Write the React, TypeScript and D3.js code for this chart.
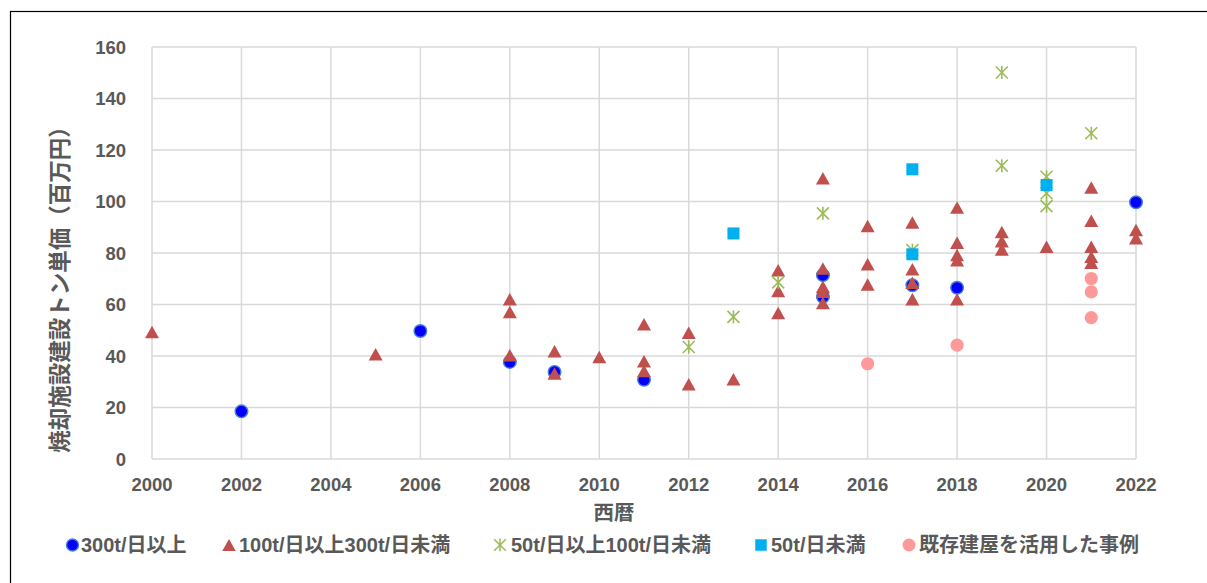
import React from "react";
import * as d3 from "d3";

// ---- data (year, value in 百万円) ----
const s300Over: [number, number][] = [
  [2002, 18.5], [2006, 49.7], [2008, 37.7], [2009, 33.8], [2011, 30.8],
  [2015, 71.4], [2015, 63], [2017, 67.5], [2018, 66.5], [2022, 99.7],
];
const s100to300: [number, number][] = [
  [2000, 49.3], [2005, 40.7], [2008, 62], [2008, 57.1], [2008, 40.3],
  [2009, 41.8], [2009, 33.2], [2010, 39.6], [2011, 52.3], [2011, 38], [2011, 34.2],
  [2012, 49], [2012, 29], [2013, 31], [2014, 73.3], [2014, 65.2], [2014, 56.7],
  [2015, 109], [2015, 74], [2015, 66.9], [2015, 65], [2015, 60.6],
  [2016, 90.5], [2016, 75.6], [2016, 67.8],
  [2017, 91.8], [2017, 73.7], [2017, 68.4], [2017, 62],
  [2018, 97.7], [2018, 84], [2018, 79.2], [2018, 77.2], [2018, 62],
  [2019, 88.2], [2019, 84.6], [2019, 81.4], [2020, 82.4],
  [2021, 105.4], [2021, 92.5], [2021, 82.4], [2021, 78.5], [2021, 76.2],
  [2022, 88.9], [2022, 85.7],
];
const s50to100: [number, number][] = [
  [2012, 43.5], [2013, 55.2], [2014, 68.6], [2015, 95.4], [2017, 81.1],
  [2019, 150.1], [2019, 113.9], [2020, 109.6], [2020, 103.2], [2020, 98.2], [2021, 126.5],
];
const s50Under: [number, number][] = [
  [2013, 87.6], [2017, 112.5], [2017, 79.5], [2020, 106.4],
];
const sExisting: [number, number][] = [
  [2016, 37], [2018, 44.2], [2021, 70.1], [2021, 64.9], [2021, 54.9],
];

const xTicks = [2000, 2002, 2004, 2006, 2008, 2010, 2012, 2014, 2016, 2018, 2020, 2022];
const yTicks = [0, 20, 40, 60, 80, 100, 120, 140, 160];
const legendLabels = [
  "300t/日以上",
  "100t/日以上300t/日未満",
  "50t/日以上100t/日未満",
  "50t/日未満",
  "既存建屋を活用した事例",
];
const yTitle = "焼却施設建設トン単価（百万円）";
const xTitle = "西暦";

// ---- styles ----
const FONT = "'Liberation Sans', 'Noto Sans CJK JP', sans-serif";
const TEXT = "#595959";
const GRID = "#D9D9D9";
const C_BLUE = "#0000FF";
const C_RED = "#C0504D";
const C_GREEN = "#9BBB59";
const C_CYAN = "#00B0F0";
const C_PINK = "#FF9999";

const x = d3.scaleLinear().domain([2000, 2022]).range([152, 1136]);
const y = d3.scaleLinear().domain([0, 160]).range([459, 47]);

function Circle({ cx, cy, color, stroke, r = 6.3 }: any) {
  return <circle cx={cx} cy={cy} r={r} fill={color} stroke={stroke ?? "none"} strokeWidth={stroke ? 1.4 : 0} />;
}
function Tri({ cx, cy, w = 14, h = 12.5 }: any) {
  const p = `M${cx},${cy - h / 2}L${cx + w / 2},${cy + h / 2}L${cx - w / 2},${cy + h / 2}Z`;
  return <path d={p} fill={C_RED} />;
}
function Star({ cx, cy, s = 6.5 }: any) {
  const d = s * 0.92;
  return (
    <g stroke={C_GREEN} strokeWidth={1.6} fill="none">
      <line x1={cx - d} y1={cy - d} x2={cx + d} y2={cy + d} />
      <line x1={cx - d} y1={cy + d} x2={cx + d} y2={cy - d} />
      <line x1={cx} y1={cy - s} x2={cx} y2={cy + s} />
    </g>
  );
}
function Sq({ cx, cy, s = 12 }: any) {
  return <rect x={cx - s / 2} y={cy - s / 2} width={s} height={s} fill={C_CYAN} />;
}

export default function App() {
  const legendX = [72.5, 229, 500, 761, 909];
  const legendTextX = [81, 239, 511, 771, 919];
  const ly = 545;
  return (
    <svg width={1207} height={583} style={{ position: "absolute", left: 0, top: 0, background: "#fff" }}>
      <rect x={0} y={0} width={1207} height={583} fill="#fff" />
      <rect x={10.5} y={11.5} width={1220} height={600} fill="none" stroke="#000" strokeWidth={1.2} />
      {/* grid */}
      {yTicks.map((t) => (
        <line key={"gy" + t} x1={x(2000)} x2={x(2022)} y1={y(t)} y2={y(t)} stroke={GRID} strokeWidth={1.5} />
      ))}
      {xTicks.map((t) => (
        <line key={"gx" + t} x1={x(t)} x2={x(t)} y1={y(0)} y2={y(160)} stroke={GRID} strokeWidth={1.5} />
      ))}
      {/* tick labels */}
      {yTicks.map((t) => (
        <text key={"ty" + t} x={126} y={y(t)} dy="0.36em" textAnchor="end" fontFamily={FONT} fontWeight="bold" fontSize={18.5} fill={TEXT}>
          {t}
        </text>
      ))}
      {xTicks.map((t) => (
        <text key={"tx" + t} x={x(t)} y={491} textAnchor="middle" fontFamily={FONT} fontWeight="bold" fontSize={18.5} fill={TEXT}>
          {t}
        </text>
      ))}
      {/* axis titles */}
      <text x={614} y={520} textAnchor="middle" fontFamily={FONT} fontWeight="bold" fontSize={20.5} fill={TEXT}>
        {xTitle}
      </text>
      <text transform={`translate(68,284) rotate(-90)`} textAnchor="middle" fontFamily={FONT} fontWeight="bold" fontSize={22.5} fill={TEXT}>
        {yTitle}
      </text>
      {/* marks */}
      {s300Over.map(([a, b], i) => (
        <Circle key={"c" + i} cx={x(a)} cy={y(b)} color={C_BLUE} stroke="#4A7FD6" />
      ))}
      {s100to300.map(([a, b], i) => (
        <Tri key={"t" + i} cx={x(a)} cy={y(b)} />
      ))}
      {s50to100.map(([a, b], i) => (
        <Star key={"s" + i} cx={x(a)} cy={y(b)} />
      ))}
      {s50Under.map(([a, b], i) => (
        <Sq key={"q" + i} cx={x(a)} cy={y(b)} />
      ))}
      {sExisting.map(([a, b], i) => (
        <Circle key={"p" + i} cx={x(a)} cy={y(b)} color={C_PINK} r={6.6} />
      ))}
      {/* legend */}
      <Circle cx={legendX[0]} cy={ly} color={C_BLUE} stroke="#4A7FD6" r={6} />
      <Tri cx={legendX[1]} cy={ly} w={13.5} h={12} />
      <Star cx={legendX[2]} cy={ly} s={6.3} />
      <Sq cx={legendX[3]} cy={ly} s={11.5} />
      <Circle cx={legendX[4]} cy={ly} color={C_PINK} r={6.5} />
      {legendLabels.map((l, i) => (
        <text key={"l" + i} x={legendTextX[i]} y={ly} dy="0.36em" fontFamily={FONT} fontWeight="bold" fontSize={20} fill={TEXT}>
          {l}
        </text>
      ))}
    </svg>
  );
}
